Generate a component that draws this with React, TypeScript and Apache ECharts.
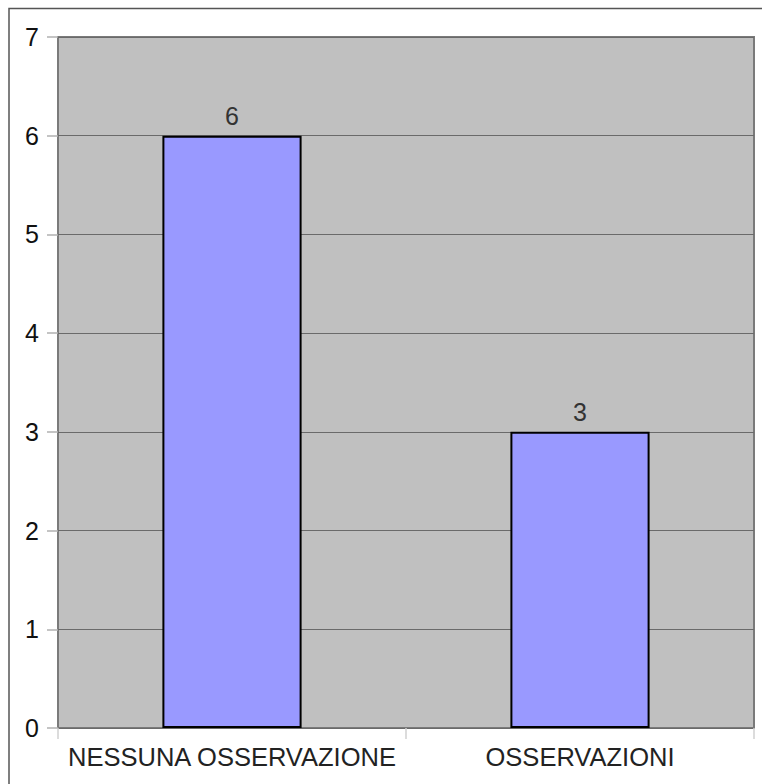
import React, { useEffect, useRef } from "react";
import * as echarts from "echarts";

const categories = ["NESSUNA OSSERVAZIONE", "OSSERVAZIONI"];
const values = [6, 3];
const yMin = 0;
const yMax = 7;
const yInterval = 1;

export default function App() {
  const ref = useRef<HTMLDivElement>(null);
  useEffect(() => {
    document.body.style.margin = "0";
    const chart = echarts.init(ref.current!, null, { renderer: "svg" });
    const font = "'Liberation Sans', Arial, sans-serif";
    chart.setOption({
      animation: false,
      backgroundColor: "#ffffff",
      graphic: [
        {
          type: "rect",
          shape: { x: 9, y: 8.5, width: 770, height: 800 },
          style: { fill: "none", stroke: "#555555", lineWidth: 1.5 },
          silent: true,
          z: -1,
        },
      ],
      grid: {
        left: 58,
        right: 8,
        top: 37,
        bottom: 56,
        show: true,
        backgroundColor: "#c0c0c0",
        borderColor: "#7a7a7a",
        borderWidth: 2,
      },
      xAxis: {
        type: "category",
        data: categories,
        axisLine: { show: false },
        axisTick: {
          show: true,
          alignWithLabel: false,
          interval: 0,
          length: 11,
          lineStyle: { color: "#d0d0d0", width: 1.5 },
        },
        axisLabel: {
          interval: 0,
          hideOverlap: false,
          color: "#222222",
          fontSize: 25.5,
          fontFamily: font,
          margin: 16,
        },
      },
      yAxis: {
        type: "value",
        min: yMin,
        max: yMax,
        interval: yInterval,
        axisLine: { show: false },
        axisTick: {
          show: true,
          length: 11,
          lineStyle: { color: "#b0b0b0", width: 1.5 },
        },
        axisLabel: {
          color: "#111111",
          fontSize: 25,
          fontFamily: font,
          margin: 19,
        },
        splitLine: { show: true, lineStyle: { color: "#6a6a6a", width: 1.2 } },
      },
      series: [
        {
          type: "bar",
          data: values,
          barWidth: "40%",
          itemStyle: { color: "#9999ff", borderColor: "#000000", borderWidth: 2 },
          label: {
            show: true,
            position: "top",
            distance: 7,
            color: "#333333",
            fontSize: 25,
            fontFamily: font,
          },
        },
      ],
    });
    return () => chart.dispose();
  }, []);
  return <div ref={ref} style={{ width: 762, height: 784 }} />;
}
